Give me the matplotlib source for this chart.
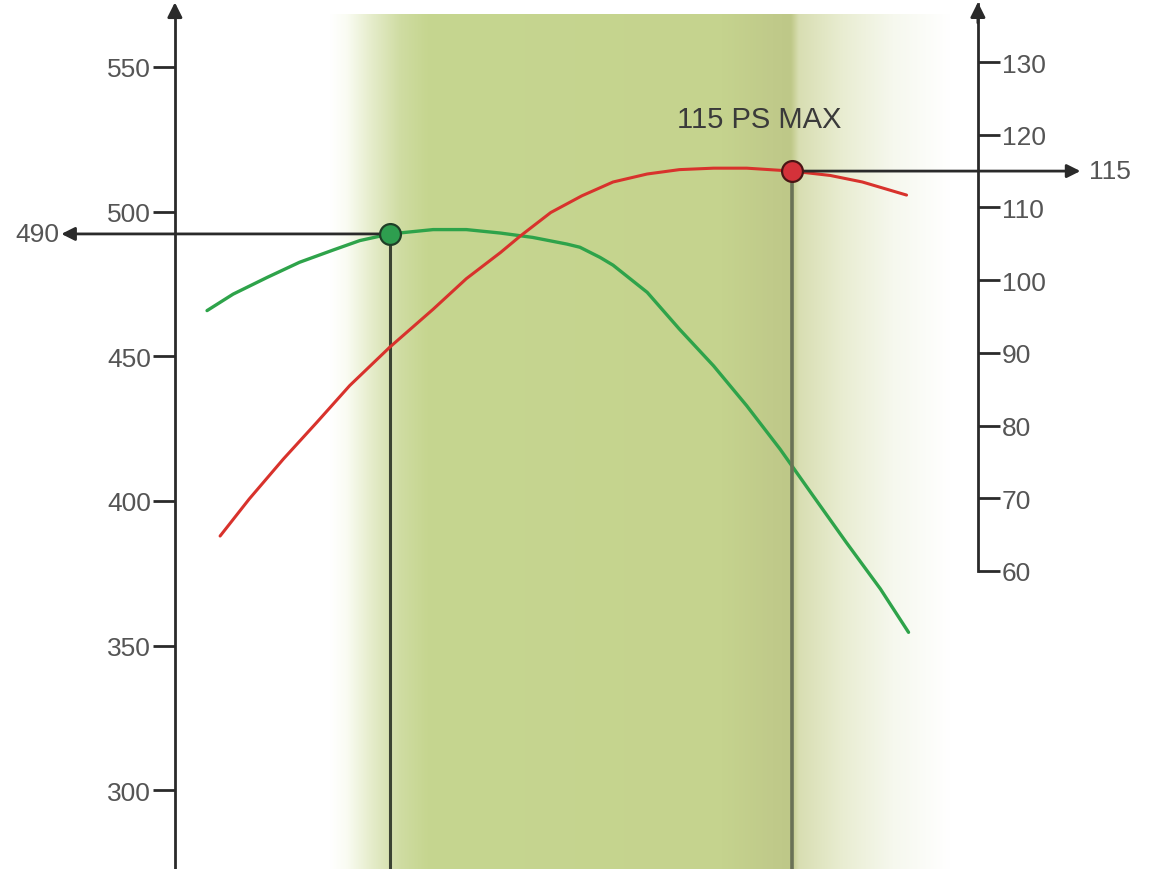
import numpy as np
import matplotlib.pyplot as plt
from matplotlib.colors import to_rgb

plt.rcParams['font.family'] = ['Liberation Sans', 'DejaVu Sans']

# torque curve (Nm) vs engine speed (rpm)
torque_rpm = [1090, 1220, 1390, 1550, 1720, 1850, 2000, 2215, 2380, 2550,
              2710, 2880, 2945, 3045, 3110, 3280, 3440, 3610, 3775, 3940,
              4105, 4270, 4440, 4580]
torque_nm = [465.8, 471.5, 477.3, 482.5, 486.8, 490.0, 492.3, 493.8, 493.8, 492.6,
             491.1, 488.8, 487.7, 484.2, 481.5, 472.1, 459.4, 446.7, 432.9, 418.0,
             401.8, 385.7, 369.6, 354.6]

# power curve (PS) vs engine speed (rpm)
power_rpm = [1155, 1300, 1470, 1635, 1800, 2000, 2215, 2380, 2550, 2650,
             2800, 2955, 3110, 3280, 3440, 3610, 3775, 4000, 4190, 4350, 4570]
power_ps = [64.8, 69.9, 75.4, 80.4, 85.5, 90.8, 96.0, 100.2, 103.8, 106.1,
            109.3, 111.6, 113.5, 114.6, 115.2, 115.4, 115.4, 115.0, 114.4, 113.5, 111.7]

torque_ticks = [300, 350, 400, 450, 500, 550]
power_ticks = [60, 70, 80, 90, 100, 110, 120, 130]

torque_peak = (2000, 492.3)
torque_label = '490'
power_peak = (4000, 115)
power_label = '115'
power_title = '115 PS MAX'

fig = plt.figure(figsize=(11.6, 8.7), dpi=100)
ax = fig.add_axes([0, 0, 1, 1])
ax2 = ax.twinx()

axis_col = '#2a2a2a'
label_col = '#555555'

# shaded band with soft edges
stops_x = [1700, 1780, 1900, 2050, 2180, 3650, 3900, 3990, 4005, 4030, 4250, 4500, 4780]
stops_c = ['#ffffff', '#fafcf3', '#e6edcc', '#cfdca2', '#c6d690', '#c5d38e',
           '#c0ca8a', '#bec888', '#c8d096', '#d8deb2', '#e9edd2', '#f6f8ee', '#ffffff']
xs = np.linspace(1700, 4780, 900)
rgb = np.array([to_rgb(c) for c in stops_c])
img = np.stack([np.interp(xs, stops_x, rgb[:, i]) for i in range(3)], axis=-1)
ax.imshow(img[None, :, :], extent=(1700, 4780, 272.8, 568.3), aspect='auto',
          zorder=0, interpolation='bilinear')
ax.set_xlim(60, 5831)
ax.set_ylim(272.8, 573.5)
ax2.set_ylim(19.0, 138.67)

# left axis (torque)
for s in ['top', 'right', 'bottom']:
    ax.spines[s].set_visible(False)
ax.spines['left'].set_position(('data', 930))
ax.spines['left'].set_bounds(272.8, 570)
ax.spines['left'].set_color(axis_col)
ax.spines['left'].set_linewidth(2)
ax.set_xticks([])
ax.set_yticks(torque_ticks)
ax.tick_params(axis='y', direction='out', length=16, width=2, color=axis_col,
               labelsize=19, labelcolor=label_col, pad=1)
ax.annotate('', xy=(930, 573.3), xytext=(930, 566),
            arrowprops=dict(arrowstyle='-|>', color=axis_col, lw=2, mutation_scale=22))

# right axis (power)
for s in ['top', 'left', 'bottom']:
    ax2.spines[s].set_visible(False)
ax2.spines['right'].set_position(('data', 4925))
ax2.spines['right'].set_bounds(60, 138)
ax2.spines['right'].set_color(axis_col)
ax2.spines['right'].set_linewidth(2)
ax2.set_yticks(power_ticks)
ax2.tick_params(axis='y', direction='out', length=16, width=2, color=axis_col,
                labelsize=19, labelcolor=label_col, pad=1)
ax2.annotate('', xy=(4925, 138.6), xytext=(4925, 135),
             arrowprops=dict(arrowstyle='-|>', color=axis_col, lw=2, mutation_scale=22))

# curves
ax.plot(torque_rpm, torque_nm, color='#2ea34a', lw=2.4, zorder=3,
        solid_capstyle='round', solid_joinstyle='round')
ax2.plot(power_rpm, power_ps, color='#d8322c', lw=2.2, zorder=2,
         solid_capstyle='round', solid_joinstyle='round')

# torque peak marker and guides
tx, ty = torque_peak
ax.plot([tx, tx], [272.8, ty], color='#3b4333', lw=2.2, zorder=2)
ax.annotate('', xy=(365, ty), xytext=(tx, ty),
            arrowprops=dict(arrowstyle='-|>', color=axis_col, lw=2,
                            mutation_scale=20, shrinkA=0, shrinkB=0), zorder=4)
ax.text(355, ty, torque_label, ha='right', va='center', fontsize=19,
        color=label_col)
ax.plot(tx, ty, 'o', ms=15, mfc='#2e9e4f', mec='#1f3f27', mew=1.6, zorder=5)

# power peak marker and guides
px_, py_ = power_peak
ax2.plot([px_, px_], [19.0, py_], color='#6a7257', lw=2.6, zorder=1)
ax2.annotate('', xy=(5435, py_), xytext=(px_, py_),
             arrowprops=dict(arrowstyle='-|>', color=axis_col, lw=2,
                             mutation_scale=20, shrinkA=0, shrinkB=0), zorder=4)
ax2.text(5480, py_, power_label, ha='left', va='center', fontsize=19,
         color=label_col)
ax2.plot(px_, py_, 'o', ms=15, mfc='#d4323a', mec='#4a1515', mew=1.6, zorder=5)
ax2.text(3836, 122.2, power_title, ha='center', va='center', fontsize=21,
         color='#3a3a3a')

fig.savefig('out.png', dpi=100)
